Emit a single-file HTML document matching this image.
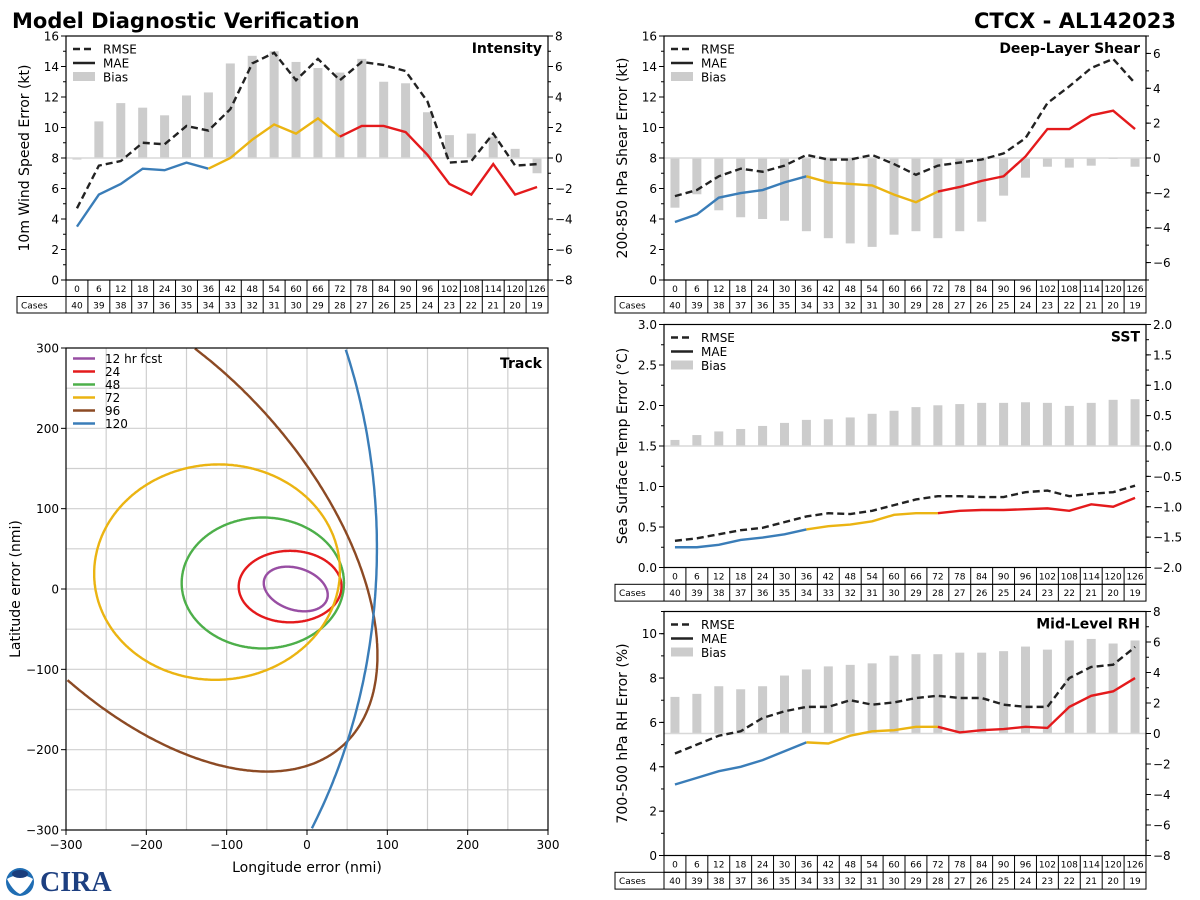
<!DOCTYPE html>
<html><head><meta charset="utf-8"><style>
html,body{margin:0;padding:0;background:#fff;overflow:hidden;width:1200px;height:900px;}
svg{display:block;font-family:"DejaVu Sans","Liberation Sans",sans-serif;}
</style></head><body>
<svg id="fig" width="1200" height="900" viewBox="0 0 1200 900" xmlns="http://www.w3.org/2000/svg">
<text x="12" y="28" font-size="21" font-weight="bold">Model Diagnostic Verification</text>
<text x="1176" y="28" font-size="21" font-weight="bold" text-anchor="end">CTCX - AL142023</text>
<g><circle cx="20" cy="882" r="14" fill="#1f6db3"/><path d="M7 879 Q20 871 33 879 Q27 891 20 894 Q13 891 7 879Z" fill="#fff"/><ellipse cx="20" cy="874" rx="8" ry="4" fill="#1a3d7c"/></g>
<text x="40" y="891" font-size="28" font-weight="bold" font-family="Liberation Serif,serif" fill="#1d3f80">CIRA</text>
</svg>
<script>
const hours=[0,6,12,18,24,30,36,42,48,54,60,66,72,78,84,90,96,102,108,114,120,126];
const cases=[40,39,38,37,36,35,34,33,32,31,30,29,28,27,26,25,24,23,22,21,20,19];
const intRmse=[4.7,7.5,7.8,9.0,8.9,10.1,9.8,11.2,14.2,14.9,13.1,14.5,13.1,14.3,14.1,13.7,11.7,7.7,7.8,9.6,7.5,7.6];
const intMae=[3.5,5.6,6.3,7.3,7.2,7.7,7.3,8.0,9.2,10.2,9.6,10.6,9.4,10.1,10.1,9.7,8.2,6.3,5.6,7.6,5.6,6.1];
const intBias=[-0.1,2.4,3.6,3.3,2.8,4.1,4.3,6.2,6.7,7.0,6.3,5.9,5.6,6.5,5.0,4.9,3.0,1.5,1.6,1.4,0.6,-1.0];
const shrRmse=[5.5,5.9,6.8,7.3,7.1,7.5,8.2,7.9,7.9,8.2,7.6,6.9,7.5,7.7,7.9,8.3,9.3,11.6,12.7,13.9,14.5,12.9];
const shrMae=[3.8,4.3,5.4,5.7,5.9,6.4,6.8,6.4,6.3,6.2,5.6,5.1,5.8,6.1,6.5,6.8,8.1,9.9,9.9,10.8,11.1,9.9];
const shrBias=[-2.85,-2.08,-3.0,-3.4,-3.5,-3.6,-4.2,-4.6,-4.9,-5.1,-4.4,-4.2,-4.6,-4.2,-3.65,-2.16,-1.13,-0.5,-0.55,-0.44,-0.04,-0.5];
const sstRmse=[0.33,0.36,0.41,0.46,0.49,0.56,0.63,0.67,0.66,0.70,0.77,0.84,0.88,0.88,0.87,0.87,0.93,0.95,0.88,0.91,0.93,1.01];
const sstMae=[0.25,0.25,0.28,0.34,0.37,0.41,0.47,0.51,0.53,0.57,0.65,0.67,0.67,0.70,0.71,0.71,0.72,0.73,0.70,0.78,0.75,0.86];
const sstBias=[0.10,0.18,0.24,0.28,0.33,0.38,0.43,0.44,0.47,0.53,0.58,0.64,0.67,0.69,0.71,0.71,0.72,0.71,0.66,0.71,0.76,0.77];
const rhRmse=[4.6,5.0,5.4,5.6,6.2,6.5,6.7,6.7,7.0,6.8,6.9,7.1,7.2,7.1,7.1,6.8,6.7,6.7,8.0,8.5,8.6,9.4];
const rhMae=[3.2,3.5,3.8,4.0,4.3,4.7,5.1,5.05,5.4,5.6,5.65,5.8,5.8,5.55,5.65,5.7,5.8,5.75,6.7,7.2,7.4,8.0];
const rhBias=[2.4,2.6,3.1,2.9,3.1,3.8,4.2,4.4,4.5,4.6,5.1,5.2,5.2,5.3,5.3,5.4,5.7,5.5,6.1,6.2,5.9,6.1];
const intLeftTicks=[0,2,4,6,8,10,12,14,16];
const intRightTicks=[-8,-6,-4,-2,0,2,4,6,8];
const shrLeftTicks=[0,2,4,6,8,10,12,14,16];
const shrRightTicks=[-6,-4,-2,0,2,4,6];
const sstLeftTicks=[0.0,0.5,1.0,1.5,2.0,2.5,3.0];
const sstRightTicks=[-2.0,-1.5,-1.0,-0.5,0.0,0.5,1.0,1.5,2.0];
const rhLeftTicks=[0,2,4,6,8,10];
const rhRightTicks=[-8,-6,-4,-2,0,2,4,6,8];
const trackLabels=['12 hr fcst','24','48','72','96','120'];
const ellCx=[-14,-21,-55,-112,-203,-400];
const ellCy=[0,3,7.5,21,80,51];
const ellRx=[41,64,101,153,370,487];
const ellRy=[26,44.5,81.5,134,205,632];
const ellAng=[-18,0,0,3,132,0];
const trackTicks=[-300,-200,-100,0,100,200,300];

const NS='http://www.w3.org/2000/svg';
const svg=document.getElementById('fig');
function mk(tag,attrs,parent){const e=document.createElementNS(NS,tag);for(const k in attrs)e.setAttribute(k,attrs[k]);(parent||svg).appendChild(e);return e;}
const C={blue:'#3a7db8',yellow:'#ebb412',red:'#e41a1c',green:'#4daf4a',purple:'#984ea3',brown:'#8c4a24',gray:'#cccccc'};
function fmt(v,d){return (v<0?'\u2212':'')+Math.abs(v).toFixed(d);}

function panel(cfg,rmse,mae,bias,lt,rt){
  const g=mk('g',{});
  
  
  const x0=cfg.x0,x1=cfg.x1,yt=cfg.yt,yb=cfg.yb,cw=(x1-x0)/22;
  const xs=i=>x0+(i+0.5)*cw;
  const yl=v=>yb-(v-cfg.lmin)/(cfg.lmax-cfg.lmin)*(yb-yt);
  const yr=v=>yb-(v-cfg.rmin)/(cfg.rmax-cfg.rmin)*(yb-yt);
  bias.forEach((b,i)=>{
    const y0=yr(0),y1=yr(b);
    const r=mk('rect',{x:xs(i)-4.5,y:Math.min(y0,y1),width:9,height:Math.max(Math.abs(y1-y0),1),fill:C.gray},g);
    
    
  });
  const zl=mk('line',{x1:x0,x2:x1,y1:yr(0),y2:yr(0),stroke:'#d8d8d8','stroke-width':1.5},g);
  
  
  const rp=mk('polyline',{points:rmse.map((v,i)=>xs(i)+','+yl(v)).join(' '),fill:'none',stroke:'#222','stroke-width':2.4,'stroke-dasharray':'7,4'},g);
  
  
  [[0,6,C.blue],[6,12,C.yellow],[12,21,C.red]].forEach(s=>{
    const pts=[];for(let i=s[0];i<=s[1];i++)pts.push(xs(i)+','+yl(mae[i]));
    const p=mk('polyline',{points:pts.join(' '),fill:'none',stroke:s[2],'stroke-width':2.4},g);
    
    
  });
  const fr=mk('rect',{x:x0,y:yt,width:x1-x0,height:yb-yt,fill:'none',stroke:'#000','stroke-width':1.2},g);
  
  
  lt.forEach(v=>{
    mk('line',{x1:x0-5,x2:x0,y1:yl(v),y2:yl(v),stroke:'#000'},g);
    const t=mk('text',{x:x0-7,y:yl(v)+4.5,'font-size':12,'text-anchor':'end'},g);
    t.textContent=fmt(v,cfg.dec);
    
    
  });
  for(let v=cfg.lmin;v<=cfg.lmax+1e-9;v+=cfg.lminor)mk('line',{x1:x0-3,x2:x0,y1:yl(v),y2:yl(v),stroke:'#000'},g);
  rt.forEach(v=>{
    mk('line',{x1:x1,x2:x1+5,y1:yr(v),y2:yr(v),stroke:'#000'},g);
    const t=mk('text',{x:x1+7,y:yr(v)+4.5,'font-size':12},g);
    t.textContent=fmt(v,cfg.dec);
    
    
  });
  for(let v=Math.ceil(cfg.rmin/cfg.rminor)*cfg.rminor;v<=cfg.rmax+1e-9;v+=cfg.rminor)mk('line',{x1:x1,x2:x1+3,y1:yr(v),y2:yr(v),stroke:'#000'},g);
  const yc=(yt+yb)/2;
  const yt2=mk('text',{x:0,y:0,'font-size':14,'text-anchor':'middle',transform:`translate(${x0-37},${yc}) rotate(-90)`},g);
  yt2.textContent=cfg.ylabel;
  
  
  const ti=mk('text',{x:x1-6,y:yt+17,'font-size':14,'font-weight':'bold','text-anchor':'end'},g);
  ti.textContent=cfg.title;
  
  
  const ly=yt+13;
  mk('line',{x1:x0+7,x2:x0+29,y1:ly,y2:ly,stroke:'#222','stroke-width':2.4,'stroke-dasharray':'7,4'},g);
  mk('line',{x1:x0+7,x2:x0+29,y1:ly+14,y2:ly+14,stroke:'#222','stroke-width':2.4},g);
  mk('rect',{x:x0+7,y:ly+23,width:22,height:9,fill:C.gray},g);
  ['RMSE','MAE','Bias'].forEach((s,k)=>{
    const t=mk('text',{x:x0+37,y:ly+4.5+14*k,'font-size':12},g);
    t.textContent=s;
    
    
  });
  const rh=cfg.rh,tb=mk('g',{stroke:'#000','stroke-width':1,fill:'none'},g);
  
  
  mk('rect',{x:x0,y:yb,width:x1-x0,height:rh},tb);
  mk('rect',{x:cfg.tx,y:yb+rh,width:x1-cfg.tx,height:rh},tb);
  mk('line',{x1:x0,x2:x0,y1:yb+rh,y2:yb+2*rh},tb);
  for(let i=1;i<22;i++)mk('line',{x1:x0+i*cw,x2:x0+i*cw,y1:yb,y2:yb+2*rh},tb);
  hours.forEach((h,i)=>{
    const t=mk('text',{x:xs(i),y:yb+rh/2+3.5,'font-size':9,'text-anchor':'middle'},g);
    t.textContent=h;
    
    
    const c=mk('text',{x:xs(i),y:yb+rh*1.5+3.5,'font-size':9,'text-anchor':'middle'},g);
    c.textContent=cases[i];
    
    
  });
  const cl=mk('text',{x:cfg.tx+4,y:yb+rh*1.5+3.5,'font-size':9},g);
  cl.textContent='Cases';
  
  
}
panel({name:'intensity',x0:66,x1:548,yt:36,yb:280,lmin:0,lmax:16,lminor:1,rmin:-8,rmax:8,rminor:1,dec:0,rh:16.5,tx:17,ylabel:'10m Wind Speed Error (kt)',title:'Intensity'},intRmse,intMae,intBias,intLeftTicks,intRightTicks);
panel({name:'shear',x0:664,x1:1146,yt:36,yb:280,lmin:0,lmax:16,lminor:1,rmin:-7,rmax:7,rminor:1,dec:0,rh:16.5,tx:615,ylabel:'200-850 hPa Shear Error (kt)',title:'Deep-Layer Shear'},shrRmse,shrMae,shrBias,shrLeftTicks,shrRightTicks);
panel({name:'sst',x0:664,x1:1146,yt:324.5,yb:567.5,lmin:0,lmax:3,lminor:0.25,rmin:-2,rmax:2,rminor:0.25,dec:1,rh:16.8,tx:615,ylabel:'Sea Surface Temp Error (\u00B0C)',title:'SST'},sstRmse,sstMae,sstBias,sstLeftTicks,sstRightTicks);
panel({name:'rh',x0:664,x1:1146,yt:611.5,yb:855.5,lmin:0,lmax:11,lminor:1,rmin:-8,rmax:8,rminor:1,dec:0,rh:16.8,tx:615,ylabel:'700-500 hPa RH Error (%)',title:'Mid-Level RH'},rhRmse,rhMae,rhBias,rhLeftTicks,rhRightTicks);

(function(){
  const g=mk('g',{});
  
  
  const x0=66,x1=548,yt=348,yb=830;
  const sx=v=>x0+(v+300)/600*(x1-x0), sy=v=>yb-(v+300)/600*(yb-yt);
  for(let v=-250;v<=250;v+=50){
    mk('line',{x1:sx(v),x2:sx(v),y1:yt,y2:yb,stroke:'#cfcfcf','stroke-width':1.2},g);
    mk('line',{x1:x0,x2:x1,y1:sy(v),y2:sy(v),stroke:'#cfcfcf','stroke-width':1.2},g);
  }
  const cols=[C.purple,C.red,C.green,C.yellow,C.brown,C.blue];
  ellCx.forEach((cx,i)=>{
    const a=ellAng[i]*Math.PI/180, ca=Math.cos(a), sa=Math.sin(a);
    const N=720, pts=[];
    for(let k=0;k<=N;k++){
      const t=2*Math.PI*k/N, ex=ellRx[i]*Math.cos(t), ey=ellRy[i]*Math.sin(t);
      const px=cx+ex*ca-ey*sa, py=ellCy[i]+ex*sa+ey*ca;
      pts.push([px,py, px>=-300&&px<=300&&py>=-300&&py<=300]);
    }
    // rotate start to an outside point so runs don't wrap
    let s=pts.findIndex(p=>!p[2]); if(s<0)s=0;
    const seq=pts.slice(s).concat(pts.slice(0,s));
    let d='',pen=false;
    seq.forEach(p=>{
      if(p[2]){d+=(pen?'L':'M')+sx(p[0]).toFixed(1)+' '+sy(p[1]).toFixed(1);pen=true;}else pen=false;
    });
    const e=mk('path',{d:d,fill:'none',stroke:cols[i],'stroke-width':2.4},g);
    
    
  });
  const fr=mk('rect',{x:x0,y:yt,width:x1-x0,height:yb-yt,fill:'none',stroke:'#000','stroke-width':1.2},g);
  
  
  trackTicks.forEach(v=>{
    mk('line',{x1:sx(v),x2:sx(v),y1:yb,y2:yb+5,stroke:'#000'},g);
    const t=mk('text',{x:sx(v),y:yb+19,'font-size':12,'text-anchor':'middle'},g);
    t.textContent=fmt(v,0);
    
    
    mk('line',{x1:x0-5,x2:x0,y1:sy(v),y2:sy(v),stroke:'#000'},g);
    const u=mk('text',{x:x0-7,y:sy(v)+4.5,'font-size':12,'text-anchor':'end'},g);
    u.textContent=fmt(v,0);
    
    
  });
  const xl=mk('text',{x:(x0+x1)/2,y:872,'font-size':14,'text-anchor':'middle'},g);
  xl.textContent='Longitude error (nmi)';
  
  
  const yl=mk('text',{x:0,y:0,'font-size':14,'text-anchor':'middle',transform:`translate(20,${(yt+yb)/2}) rotate(-90)`},g);
  yl.textContent='Latitude error (nmi)';
  
  
  const ti=mk('text',{x:x1-6,y:yt+20,'font-size':14,'font-weight':'bold','text-anchor':'end'},g);
  ti.textContent='Track';
  
  
  trackLabels.forEach((s,i)=>{
    const y=358.5+13*i;
    mk('line',{x1:73,x2:95,y1:y,y2:y,stroke:cols[i],'stroke-width':2.4},g);
    const t=mk('text',{x:105,y:y+4.5,'font-size':12},g);
    t.textContent=s;
    
    
  });
})();
</script>
</body></html>
